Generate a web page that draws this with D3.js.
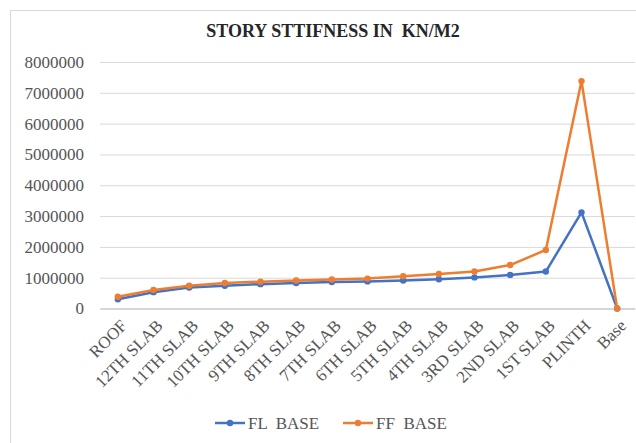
<!DOCTYPE html>
<html><head><meta charset="utf-8">
<script src="https://cdn.jsdelivr.net/npm/d3@7"></script>
<style>body{margin:0;background:#fff}svg{display:block}text{font-family:"Liberation Serif","Times New Roman",serif;white-space:pre}</style>
</head><body><svg id="c" width="636" height="443"></svg>
<script>
const categories=["ROOF","12TH SLAB","11TH SLAB","10TH SLAB","9TH SLAB","8TH SLAB","7TH SLAB","6TH SLAB","5TH SLAB","4TH SLAB","3RD SLAB","2ND SLAB","1ST SLAB","PLINTH","Base"];
const flBase=[300000,530000,680000,740000,790000,830000,860000,880000,910000,950000,1010000,1090000,1200000,3120000,0];
const ffBase=[380000,600000,740000,830000,870000,910000,940000,970000,1050000,1120000,1200000,1410000,1900000,7380000,0];
const yTicks=[0,1000000,2000000,3000000,4000000,5000000,6000000,7000000,8000000];
const seriesNames=["FL  BASE","FF  BASE"];
const colors=["#4472C4","#ED7D31"];
const title="STORY STTIFNESS IN  KN/M2";

const svg=d3.select("#c");
svg.append("rect").attr("x",10.5).attr("y",10.5).attr("width",640).attr("height",450).attr("fill","#fff").attr("stroke","#d9d9d9");
const L=100,R=635,T=62,B=308.5;
const x=d3.scaleBand().domain(categories).range([L,R]);
const y=d3.scaleLinear().domain([0,8000000]).range([B,T]);
const cx=d=>x(d)+x.bandwidth()/2;

svg.append("text").attr("x",333).attr("y",37).attr("text-anchor","middle").attr("font-weight","bold").attr("font-size",18).attr("fill","#262626").text(title);

const ya=svg.append("g").attr("transform",`translate(${L},0)`).call(d3.axisLeft(y).tickValues(yTicks).tickSize(-(R-L)).tickFormat(d3.format("d")).tickPadding(16));
ya.select(".domain").remove();
ya.selectAll(".tick line").attr("stroke","#d9d9d9");
ya.selectAll(".tick text").attr("font-size",17).attr("fill","#555").attr("font-family","Liberation Serif");

const xa=svg.append("g").attr("transform",`translate(0,${B})`).call(d3.axisBottom(x).tickSize(0).tickFormat(""));
xa.select(".domain").attr("stroke","#bfbfbf");
svg.append("g").selectAll("text").data(categories).join("text")
 .attr("transform",d=>`translate(${cx(d)+6},${B+14}) rotate(-45)`)
 .attr("text-anchor","end").attr("dy","0.35em").attr("font-size",17).attr("fill","#555").text(d=>d);

const line=d3.line().x((d,i)=>cx(categories[i])).y(d=>y(d));
[flBase,ffBase].forEach((s,k)=>{
  svg.append("path").datum(s).attr("d",line).attr("fill","none").attr("stroke",colors[k]).attr("stroke-width",2.5).attr("stroke-linejoin","round");
  svg.append("g").selectAll("circle").data(s).join("circle").attr("cx",(d,i)=>cx(categories[i])).attr("cy",d=>y(d)).attr("r",3.2).attr("fill",colors[k]);
});

const lg=svg.append("g");
const lx=[215,343];
seriesNames.forEach((n,k)=>{
  lg.append("line").attr("x1",lx[k]).attr("x2",lx[k]+30).attr("y1",423).attr("y2",423).attr("stroke",colors[k]).attr("stroke-width",2.5);
  lg.append("circle").attr("cx",lx[k]+15).attr("cy",423).attr("r",3.2).attr("fill",colors[k]);
  lg.append("text").attr("x",lx[k]+33).attr("y",423).attr("dy","0.35em").attr("font-size",17).attr("fill","#555").text(n);
});
</script></body></html>
